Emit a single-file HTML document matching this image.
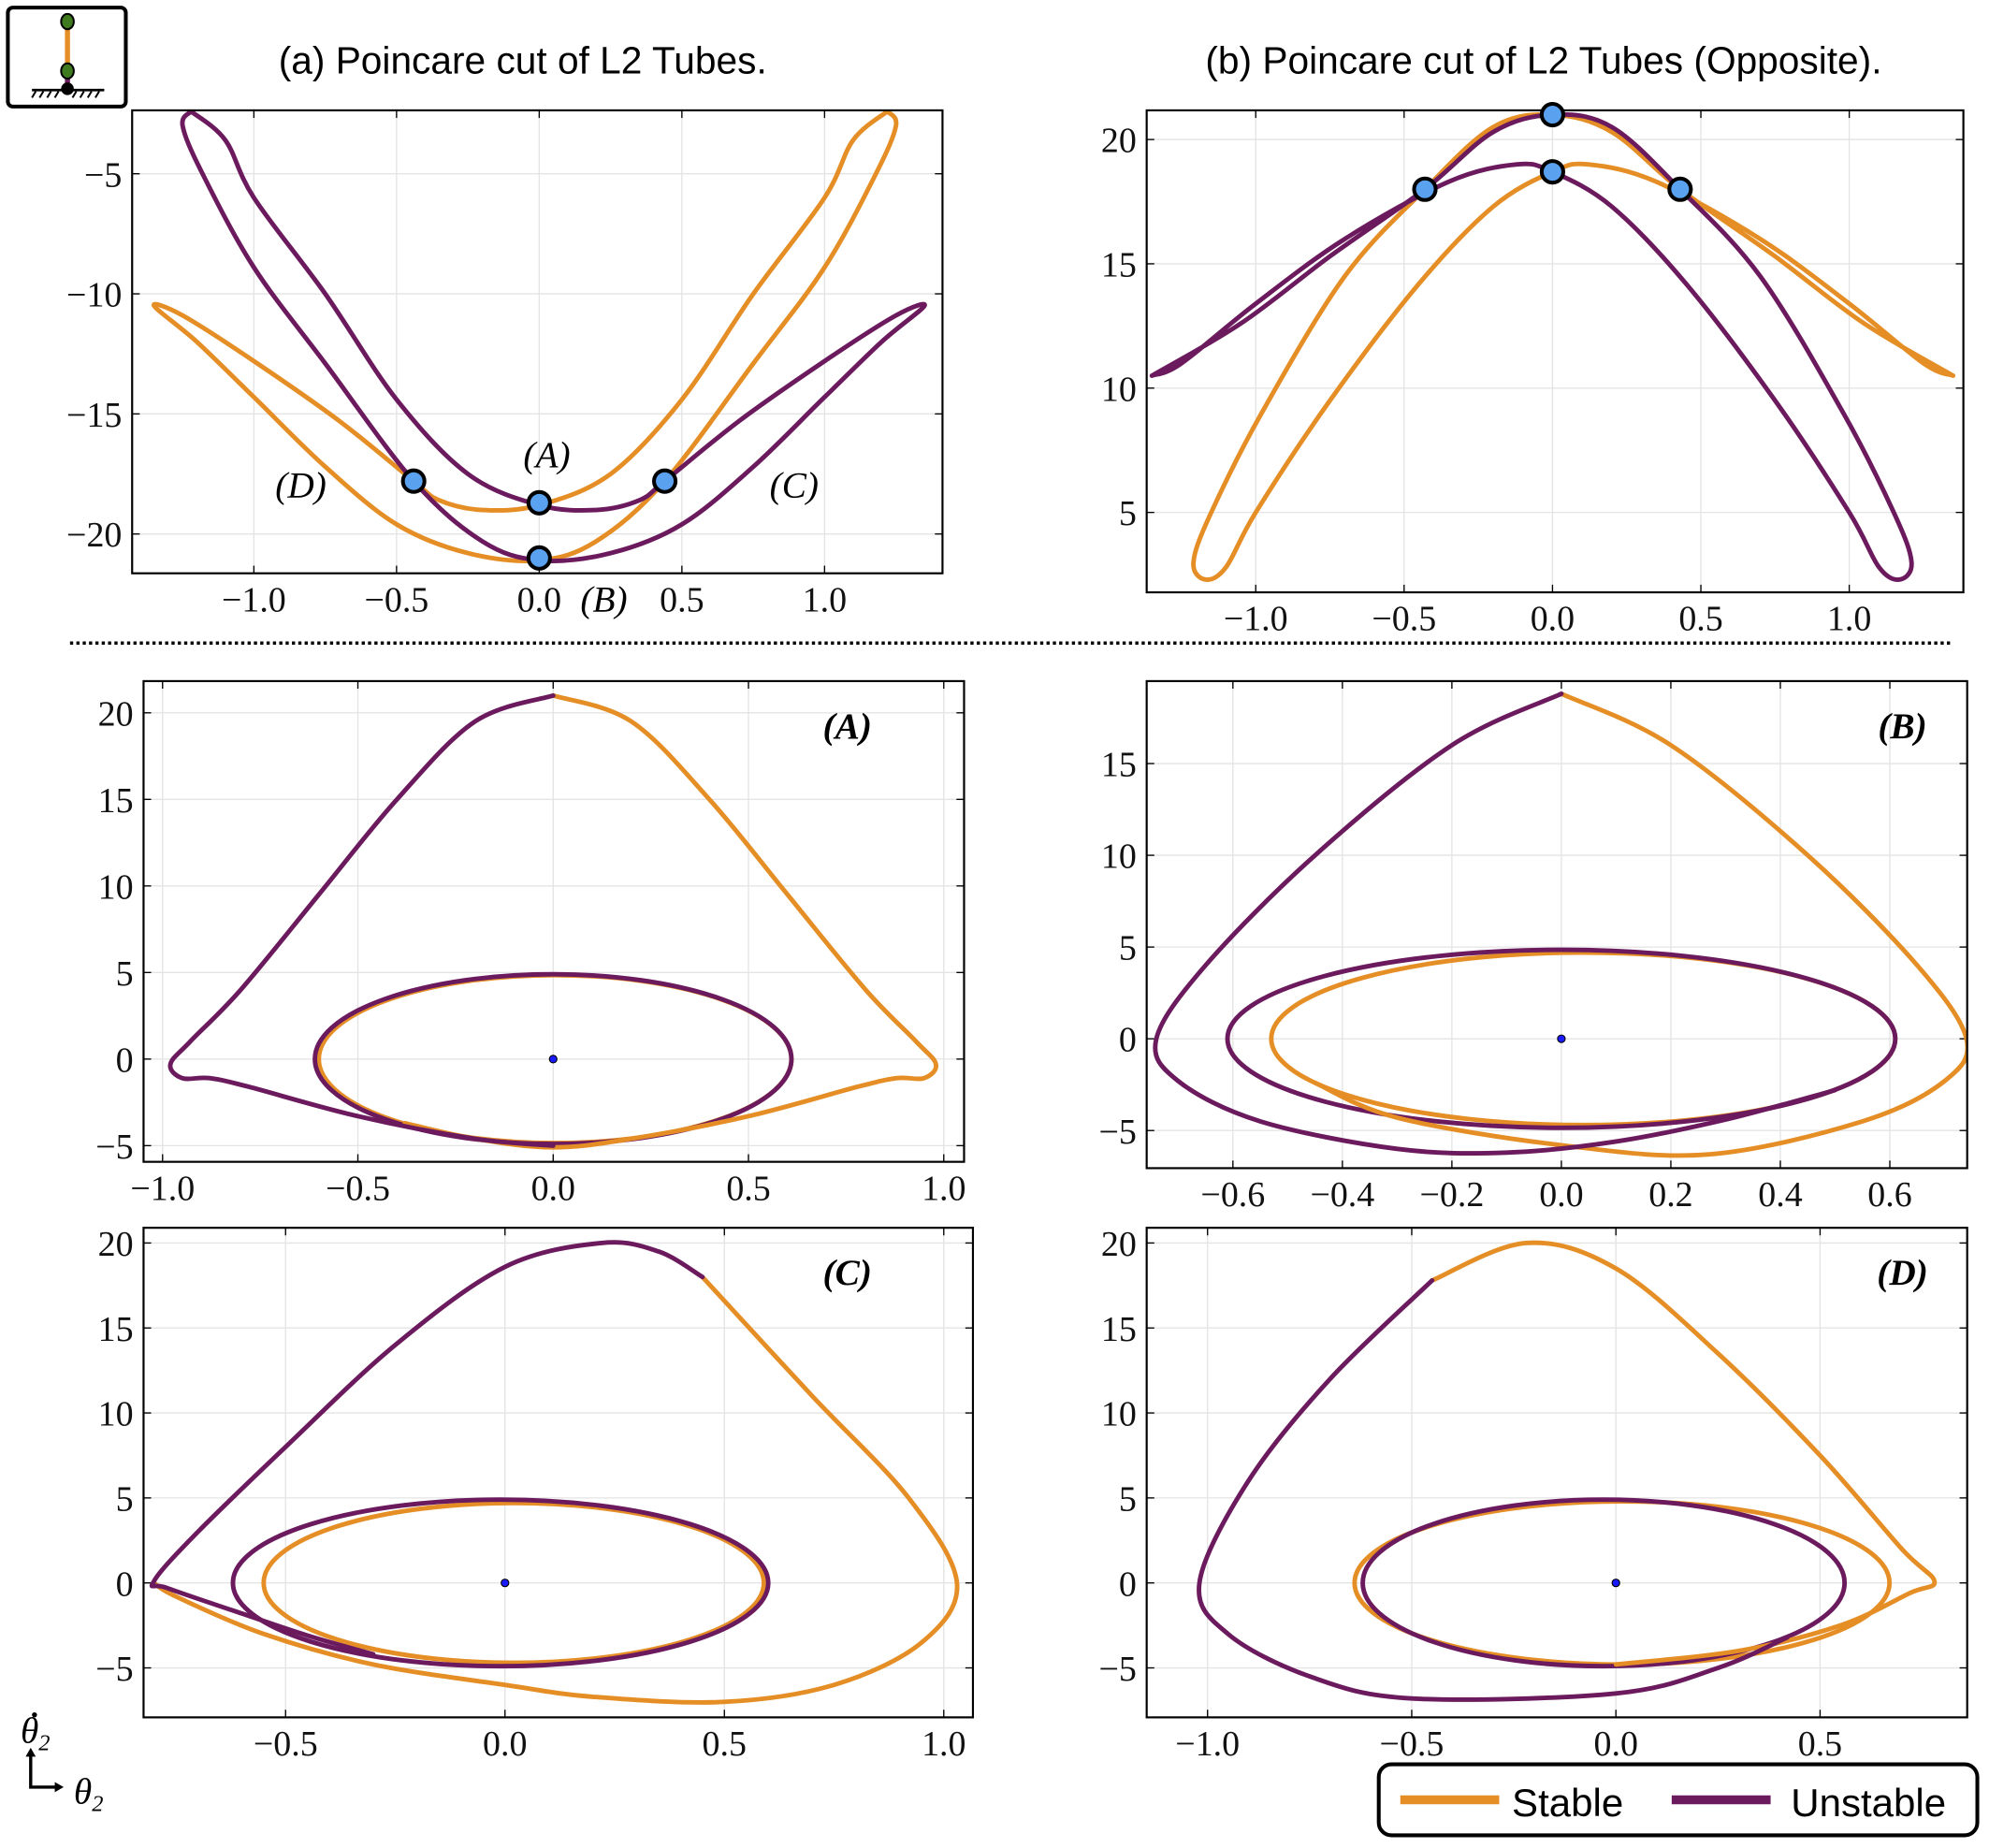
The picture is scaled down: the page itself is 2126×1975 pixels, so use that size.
<!DOCTYPE html>
<html><head><meta charset="utf-8">
<style>
html,body{margin:0;padding:0;background:#fff;}
svg{display:block;}
.tk{font-family:"Liberation Serif",serif;font-size:28px;fill:#111;}
.ttl{font-family:"Liberation Sans",sans-serif;font-size:30px;fill:#000;}
.lbl{font-family:"Liberation Serif",serif;font-size:29px;font-style:italic;fill:#000;}
</style></head>
<body>
<svg id="fig" width="2126" height="1975" viewBox="0 0 1568 1457" xmlns="http://www.w3.org/2000/svg">
<g id="root"></g>
</svg>
<script>
const ORANGE="#E58E26", PURPLE="#6B1A5E";
// ---------------- data ----------------
// Panel (a)
const aUnstX=[-1.22,-1.1,-1.0,-0.75,-0.5,-0.25,0,0.2,0.35,0.44,0.7,1.0,1.25,1.35,1.2,1.0,0.75,0.5,0.25,0,-0.2,-0.44,-0.75,-1.0,-1.18,-1.25,-1.22];
const aUnstY=[-2.4,-3.6,-6,-10,-14.4,-17.5,-18.8,-19,-18.6,-17.8,-15.3,-12.8,-10.9,-10.5,-12,-14.3,-17.2,-19.6,-20.8,-21.1,-20.3,-17.8,-12.9,-8.9,-5,-3,-2.4];
const aStabX=[1.22,1.1,1.0,0.75,0.5,0.25,0,-0.2,-0.35,-0.44,-0.7,-1.0,-1.25,-1.35,-1.2,-1.0,-0.75,-0.5,-0.25,0,0.2,0.44,0.75,1.0,1.18,1.25,1.22];
const aStabY=[-2.4,-3.6,-6,-10,-14.4,-17.5,-18.8,-19,-18.6,-17.8,-15.3,-12.8,-10.9,-10.5,-12,-14.3,-17.2,-19.6,-20.8,-21.1,-20.3,-17.8,-12.9,-8.9,-5,-3,-2.4];
const aDotX=[-0.44,0,0.44,0];
const aDotY=[-17.8,-18.7,-17.8,-21];
// Panel (b)
const bUnstX=[-1.35,-1.05,-0.75,-0.43,-0.2,0,0.2,0.43,0.7,0.98,1.15,1.21,1.17,1.1,1.0,0.75,0.45,0.2,0,-0.12,-0.35,-0.7,-1.0,-1.25,-1.35];
const bUnstY=[10.5,12.6,15.3,18,20.3,21,20.5,18,14.5,9,5,3,2.3,2.8,5,9.5,14.2,17.3,18.7,19,18.3,16,13.4,11,10.5];
const bStabX=[1.35,1.05,0.75,0.43,0.2,0,-0.2,-0.43,-0.7,-0.98,-1.15,-1.21,-1.17,-1.1,-1.0,-0.75,-0.45,-0.2,0,0.12,0.35,0.7,1.0,1.25,1.35];
const bStabY=[10.5,12.6,15.3,18,20.3,21,20.5,18,14.5,9,5,3,2.3,2.8,5,9.5,14.2,17.3,18.7,19,18.3,16,13.4,11,10.5];
const bDotX=[-0.43,0,0,0.43];
const bDotY=[18,21,18.7,18];
// Panel A
const pAUnstX=[0,-0.2,-0.4,-0.6,-0.8,-0.93,-0.98,-0.95,-0.88,-0.78,-0.5,-0.2,0];
const pAUnstY=[21,19.5,15,9.5,4,1,-0.3,-1.1,-1.1,-1.6,-3.3,-4.6,-5.0];
const pAStabX=[0,0.2,0.4,0.6,0.8,0.93,0.98,0.95,0.88,0.78,0.5,0.2,0,-0.2,-0.38];
const pAStabY=[21,19.5,15,9.5,4,1,-0.3,-1.1,-1.1,-1.6,-3.3,-4.6,-5.1,-4.6,-3.7];
const pAEll=[0,0.61,4.9, 0.005,0.605,4.85]; // unstable cx,rx,ry ; stable cx,rx,ry
// Panel B
const pBUnstX=[0,-0.2,-0.45,-0.65,-0.74,-0.7,-0.55,-0.3,-0.1,0.1,0.3,0.5];
const pBUnstY=[18.8,16,10,4,0,-2.3,-4.5,-6,-6.2,-5.6,-4.4,-2.8];
const pBStabX=[0,0.2,0.45,0.65,0.74,0.7,0.55,0.27,0,-0.3,-0.45];
const pBStabY=[18.8,16,10,4,0,-2.3,-4.5,-6.3,-5.8,-4.3,-2.4];
const pBEll=[0,0.61,4.85, 0.04,0.57,4.7];
// Panel C
const pCUnstX=[0.45,0.35,0.22,0,-0.25,-0.5,-0.7,-0.8,-0.77,-0.6,-0.45,-0.3];
const pCUnstY=[18,19.5,20,18.6,14,8,3,0.1,-0.3,-1.8,-3.1,-4.2];
const pCStabX=[0.45,0.7,0.92,1.03,0.95,0.75,0.5,0.2,0,-0.3,-0.55,-0.75,-0.8];
const pCStabY=[18,11,5,0,-3.5,-6,-7,-6.7,-6,-4.8,-3,-0.8,0];
const pCEll=[-0.01,0.61,4.9, 0.02,0.57,4.7];
// Panel D
const pDUnstX=[-0.45,-0.7,-0.9,-1.02,-0.95,-0.75,-0.5,0,0.25,0.42];
const pDUnstY=[17.8,12,6,0,-3,-5.5,-6.8,-6.5,-5,-3.2];
const pDStabX=[-0.45,-0.22,0,0.25,0.5,0.7,0.78,0.72,0.55,0.3,0];
const pDStabY=[17.8,20,18.5,13.5,7.5,2,0.1,-0.6,-2.5,-4,-4.8];
const pDEll=[-0.03,0.59,4.9, 0.015,0.655,4.8];
// ticks
const aXT=[-1.0,-0.5,0.0,0.5,1.0], aYT=[-5,-10,-15,-20];
const bXT=[-1.0,-0.5,0.0,0.5,1.0], bYT=[20,15,10,5];
const AXT=[-1.0,-0.5,0.0,0.5,1.0], AYT=[20,15,10,5,0,-5];
const BXT=[-0.6,-0.4,-0.2,0.0,0.2,0.4,0.6], BYT=[15,10,5,0,-5];
const CXT=[-0.5,0.0,0.5,1.0], CYT=[20,15,10,5,0,-5];
const DXT=[-1.0,-0.5,0.0,0.5], DYT=[20,15,10,5,0,-5];

// -------------- drawing --------------
const NS="http://www.w3.org/2000/svg";
const root=document.getElementById('root');
function mk(tag,attrs,parent){const e=document.createElementNS(NS,tag);for(const k in attrs)e.setAttribute(k,attrs[k]);(parent||root).appendChild(e);return e;}
function fmt(v,dec){const s=Math.abs(v).toFixed(dec);return (v<0?"\u2212":"")+s;}
function smooth(pts){
  let d="M"+pts[0][0].toFixed(1)+","+pts[0][1].toFixed(1);
  for(let i=0;i<pts.length-1;i++){
    const p0=pts[Math.max(0,i-1)],p1=pts[i],p2=pts[i+1],p3=pts[Math.min(pts.length-1,i+2)];
    const c1=[p1[0]+(p2[0]-p0[0])/6,p1[1]+(p2[1]-p0[1])/6];
    const c2=[p2[0]-(p3[0]-p1[0])/6,p2[1]-(p3[1]-p1[1])/6];
    d+="C"+c1[0].toFixed(1)+","+c1[1].toFixed(1)+" "+c2[0].toFixed(1)+","+c2[1].toFixed(1)+" "+p2[0].toFixed(1)+","+p2[1].toFixed(1);
  }
  return d;
}
function panel(name,box,xs,ys,xt,yt,xdec,ydec){
  const g=mk('g',{});
  
  
  const [x0,y0,x1,y1]=box;
  mk('rect',{x:x0,y:y0,width:x1-x0,height:y1-y0,fill:'#fff'},g);
  xt.forEach(v=>{const X=xs(v);
    const l=mk('line',{x1:X,x2:X,y1:y0,y2:y1,stroke:'#e4e4e4','stroke-width':1},g);
    
    mk('line',{x1:X,x2:X,y1:y1,y2:y1-6,stroke:'#000','stroke-width':1},g);
    mk('line',{x1:X,x2:X,y1:y0,y2:y0+6,stroke:'#000','stroke-width':1},g);
    const t=mk('text',{x:X,y:y1+30,'text-anchor':'middle',class:'tk'},g);t.textContent=fmt(v,xdec);
    });
  yt.forEach(v=>{const Y=ys(v);
    const l=mk('line',{x1:x0,x2:x1,y1:Y,y2:Y,stroke:'#e4e4e4','stroke-width':1},g);
    
    mk('line',{x1:x0,x2:x0+6,y1:Y,y2:Y,stroke:'#000','stroke-width':1},g);
    mk('line',{x1:x1,x2:x1-6,y1:Y,y2:Y,stroke:'#000','stroke-width':1},g);
    const t=mk('text',{x:x0-8,y:Y+10,'text-anchor':'end',class:'tk'},g);t.textContent=fmt(v,ydec);
    });
  const clip="clip-"+name;
  const cp=mk('clipPath',{id:clip},g);mk('rect',{x:x0,y:y0,width:x1-x0,height:y1-y0},cp);
  const plot=mk('g',{'clip-path':'url(#'+clip+')'},g);
  mk('rect',{x:x0,y:y0,width:x1-x0,height:y1-y0,fill:'none',stroke:'#000','stroke-width':1.6},g);
  return {g,plot,xs,ys};
}
function curve(P,X,Y,color,nm){
  const pts=X.map((x,i)=>[P.xs(x),P.ys(Y[i])]);
  const p=mk('path',{d:smooth(pts),fill:'none',stroke:color,'stroke-width':3.6,'stroke-linejoin':'round','stroke-linecap':'round'},P.plot);
  
  
}
function ell(P,cx,rx,ry,color,nm){
  const e=mk('ellipse',{cx:P.xs(cx),cy:P.ys(0),rx:Math.abs(P.xs(cx+rx)-P.xs(cx)),ry:Math.abs(P.ys(ry)-P.ys(0)),fill:'none',stroke:color,'stroke-width':3.6},P.plot);
  
  
}
function dots(P,X,Y){
  X.forEach((x,i)=>{const c=mk('circle',{cx:P.xs(x),cy:P.ys(Y[i]),r:8.5,fill:'#5AA2F0',stroke:'#000','stroke-width':3},P.g);
    
    });
}
function center(P){const c=mk('circle',{cx:P.xs(0),cy:P.ys(0),r:3,fill:'#1a1aff',stroke:'#000','stroke-width':0.8},P.plot);
  
  }
function lin(d0,r0,d1,r1){return v=>r0+(v-d0)*(r1-r0)/(d1-d0);}

const Pa=panel('panel-a',[104,87,743,452],lin(0,425,1,650),lin(-5,137,-20,421),aXT,aYT,1,0);
curve(Pa,aStabX,aStabY,ORANGE,'stable-curve');curve(Pa,aUnstX,aUnstY,PURPLE,'unstable-curve');dots(Pa,aDotX,aDotY);
const Pb=panel('panel-b',[904,87,1548,467],lin(0,1224,1,1458),lin(20,110,5,404),bXT,bYT,1,0);
curve(Pb,bStabX,bStabY,ORANGE,'stable-curve');curve(Pb,bUnstX,bUnstY,PURPLE,'unstable-curve');dots(Pb,bDotX,bDotY);
const PA=panel('panel-A',[113,537,760,916],lin(0,436,1,744),lin(0,835,20,562),AXT,AYT,1,0);
ell(PA,pAEll[3],pAEll[4],pAEll[5],ORANGE,'stable-orbit');ell(PA,pAEll[0],pAEll[1],pAEll[2],PURPLE,'unstable-orbit');
curve(PA,pAStabX,pAStabY,ORANGE,'stable-curve');curve(PA,pAUnstX,pAUnstY,PURPLE,'unstable-curve');center(PA);
const PB=panel('panel-B',[904,537,1551,921],lin(0,1231,0.6,1490),lin(0,819,15,602),BXT,BYT,1,0);
ell(PB,pBEll[3],pBEll[4],pBEll[5],ORANGE,'stable-orbit');ell(PB,pBEll[0],pBEll[1],pBEll[2],PURPLE,'unstable-orbit');
curve(PB,pBStabX,pBStabY,ORANGE,'stable-curve');curve(PB,pBUnstX,pBUnstY,PURPLE,'unstable-curve');center(PB);
const PC=panel('panel-C',[113,968,767,1354],lin(0,398,1,744),lin(0,1248,20,980),CXT,CYT,1,0);
ell(PC,pCEll[3],pCEll[4],pCEll[5],ORANGE,'stable-orbit');ell(PC,pCEll[0],pCEll[1],pCEll[2],PURPLE,'unstable-orbit');
curve(PC,pCStabX,pCStabY,ORANGE,'stable-curve');curve(PC,pCUnstX,pCUnstY,PURPLE,'unstable-curve');center(PC);
const PD=panel('panel-D',[904,968,1551,1354],lin(0,1274,0.5,1435),lin(0,1248,20,980),DXT,DYT,1,0);
ell(PD,pDEll[3],pDEll[4],pDEll[5],ORANGE,'stable-orbit');ell(PD,pDEll[0],pDEll[1],pDEll[2],PURPLE,'unstable-orbit');
curve(PD,pDStabX,pDStabY,ORANGE,'stable-curve');curve(PD,pDUnstX,pDUnstY,PURPLE,'unstable-curve');center(PD);
</script>
<script>
(function(){
const svg=document.getElementById('fig');
svg.insertAdjacentHTML('beforeend',`
<text class="ttl" x="412" y="58" text-anchor="middle">(a) Poincare cut of L2 Tubes.</text>
<text class="ttl" x="1217" y="58" text-anchor="middle">(b) Poincare cut of L2 Tubes (Opposite).</text>
<text class="lbl" x="431" y="368" text-anchor="middle">(A)</text>
<text class="lbl" x="237" y="392" text-anchor="middle">(D)</text>
<text class="lbl" x="626" y="392" text-anchor="middle">(C)</text>
<text class="lbl" x="476" y="482" text-anchor="middle">(B)</text>
<line x1="55" y1="507" x2="1540" y2="507" stroke="#000" stroke-width="2.5" stroke-dasharray="2.5,2.5"/>
<text class="lbl" x="668" y="582" text-anchor="middle" font-weight="bold">(A)</text>
<text class="lbl" x="1500" y="582" text-anchor="middle" font-weight="bold">(B)</text>
<text class="lbl" x="668" y="1013" text-anchor="middle" font-weight="bold">(C)</text>
<text class="lbl" x="1500" y="1013" text-anchor="middle" font-weight="bold">(D)</text>
<g>
<rect x="6" y="6" width="93" height="78" rx="4" fill="#fff" stroke="#000" stroke-width="3"/>
<line x1="53" y1="17" x2="53" y2="57" stroke="#E58E26" stroke-width="4"/>
<line x1="53" y1="57" x2="53" y2="70" stroke="#6B1A5E" stroke-width="4"/>
<ellipse cx="53" cy="17" rx="5" ry="6" fill="#3f7a1e" stroke="#000" stroke-width="1.5"/>
<ellipse cx="53" cy="56" rx="5" ry="6" fill="#3f7a1e" stroke="#000" stroke-width="1.5"/>
<circle cx="53" cy="70" r="5" fill="#000"/>
<line x1="25" y1="71" x2="82" y2="71" stroke="#000" stroke-width="2"/>
<path d="M28,72 l-3,5 M34,72 l-3,5 M40,72 l-3,5 M46,72 l-3,5 M60,72 l-3,5 M66,72 l-3,5 M72,72 l-3,5 M78,72 l-3,5" stroke="#000" stroke-width="1.5"/>
</g>
<g>
<circle cx="27" cy="1352" r="2" fill="#000"/>
<text class="lbl" x="16" y="1374">θ<tspan font-size="18" dy="6">2</tspan></text>
<path d="M24,1384 L24,1409 L46,1409" fill="none" stroke="#000" stroke-width="2.5"/>
<path d="M24,1378 l-4,7 h8 z M50,1409 l-7,-4 v8 z" fill="#000"/>
<text class="lbl" x="58" y="1422">θ<tspan font-size="18" dy="6">2</tspan></text>
</g>
<g>
<rect x="1087" y="1391" width="472" height="56" rx="10" fill="#fff" stroke="#000" stroke-width="3"/>
<line x1="1104" y1="1419" x2="1182" y2="1419" stroke="#E58E26" stroke-width="7"/>
<text x="1192" y="1432" font-family="Liberation Sans, sans-serif" font-size="31">Stable</text>
<line x1="1318" y1="1419" x2="1396" y2="1419" stroke="#6B1A5E" stroke-width="7"/>
<text x="1412" y="1432" font-family="Liberation Sans, sans-serif" font-size="31">Unstable</text>
</g>`);
})();
</script>
</body></html>
